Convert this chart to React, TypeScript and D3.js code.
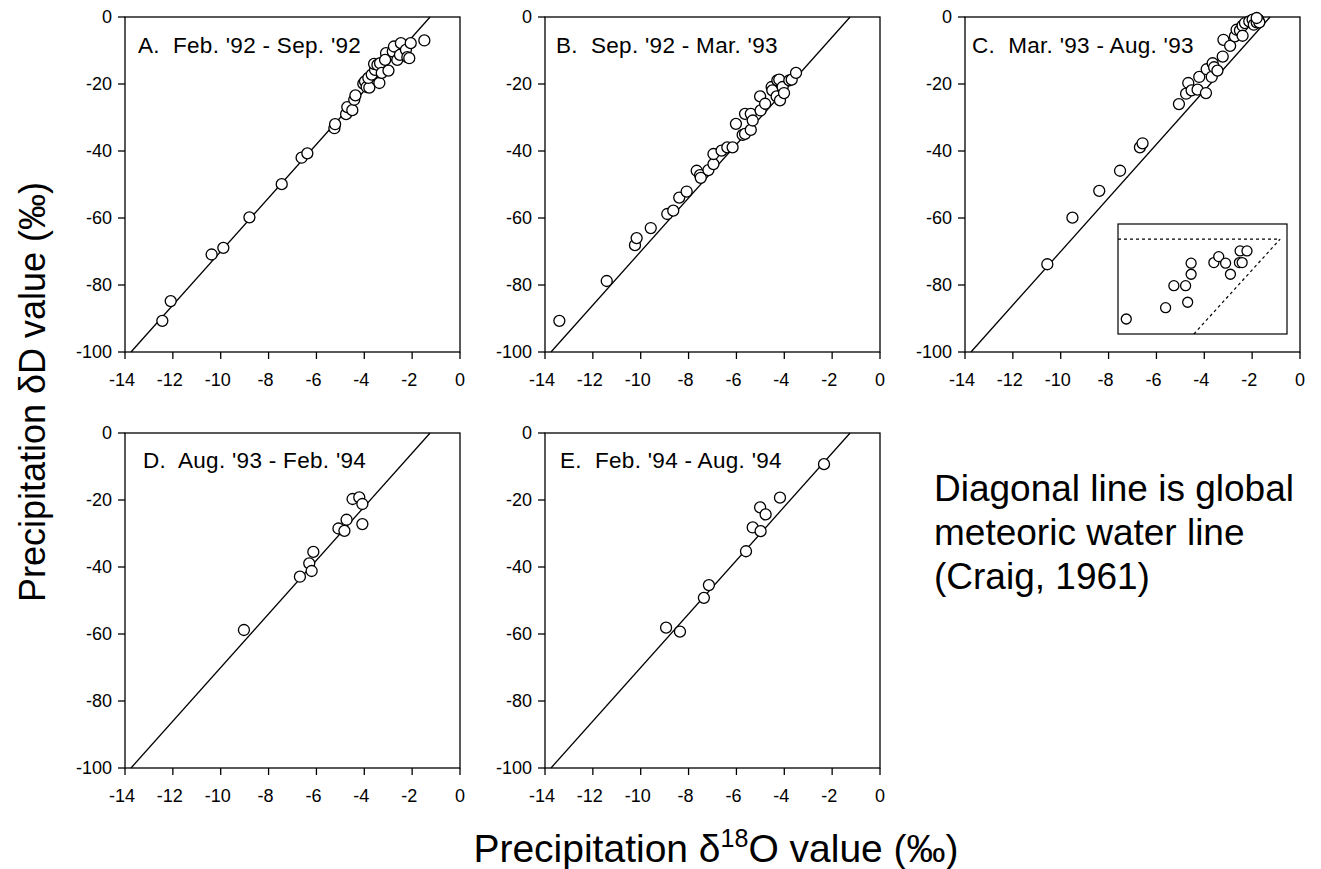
import React from 'react';
import * as d3 from 'd3';

// ---------- data ----------
const xTicks = [-14, -12, -10, -8, -6, -4, -2, 0];
const yTicks = [0, -20, -40, -60, -80, -100];

const panelTitles = [
  "A.  Feb. '92 - Sep. '92",
  "B.  Sep. '92 - Mar. '93",
  "C.  Mar. '93 - Aug. '93",
  "D.  Aug. '93 - Feb. '94",
  "E.  Feb. '94 - Aug. '94",
];

const aO = [-12.44, -12.09, -10.38, -9.89, -8.80, -7.45, -6.62, -6.38, -5.25, -5.22, -4.76, -4.71, -4.50, -4.42, -4.37, -4.04, -3.97, -3.90, -3.79, -3.83, -3.69, -3.55, -3.59, -3.45, -3.37, -3.34, -3.27, -3.09, -3.13, -2.99, -2.81, -2.76, -2.62, -2.51, -2.47, -2.26, -2.20, -2.12, -2.06, -1.49];
const aD = [-90.7, -84.8, -70.9, -68.9, -59.8, -49.9, -42.0, -40.7, -33.2, -32.0, -29.0, -26.9, -27.8, -24.7, -23.4, -19.9, -19.2, -20.9, -21.1, -18.2, -17.2, -15.8, -14.0, -14.3, -19.7, -13.8, -16.7, -10.8, -12.8, -16.0, -10.3, -8.8, -12.8, -11.3, -7.8, -9.8, -12.0, -12.3, -7.8, -7.0];

const bO = [-13.40, -11.42, -10.24, -10.17, -9.58, -8.89, -8.64, -8.39, -8.08, -7.66, -7.52, -7.49, -7.17, -6.96, -6.96, -6.62, -6.38, -6.16, -6.02, -5.74, -5.64, -5.64, -5.40, -5.40, -5.32, -5.01, -4.99, -4.80, -4.53, -4.50, -4.32, -4.29, -4.21, -4.18, -4.07, -4.01, -3.79, -3.69, -3.51];
const bD = [-90.7, -78.8, -68.1, -66.0, -63.0, -58.8, -57.8, -53.9, -52.1, -45.9, -47.2, -48.0, -45.7, -43.9, -40.9, -39.9, -38.9, -38.9, -31.9, -35.2, -34.9, -28.9, -28.9, -33.7, -30.9, -23.7, -27.9, -25.9, -20.9, -21.9, -23.7, -18.9, -18.7, -24.9, -20.9, -22.7, -18.9, -18.7, -16.7];

const cO = [-10.56, -9.51, -8.39, -7.52, -6.69, -6.58, -5.06, -4.76, -4.67, -4.53, -4.28, -4.21, -3.93, -3.90, -3.69, -3.65, -3.59, -3.45, -3.23, -3.20, -2.92, -2.72, -2.65, -2.51, -2.40, -2.40, -2.30, -2.12, -1.98, -1.93, -1.81, -1.74, -1.70, -1.81];
const cD = [-73.8, -59.9, -51.9, -45.9, -38.9, -37.7, -26.0, -22.9, -19.7, -21.9, -21.7, -17.9, -22.7, -15.6, -17.9, -13.8, -15.0, -16.0, -11.8, -6.8, -8.6, -5.8, -3.8, -4.0, -2.6, -5.6, -1.8, -1.3, -0.8, -2.3, -1.6, -0.8, -1.6, -0.3];

const dO = [-9.03, -6.69, -6.30, -6.20, -6.13, -5.08, -4.83, -4.74, -4.49, -4.21, -4.08, -4.08];
const dD = [-58.8, -42.9, -38.9, -41.2, -35.5, -28.5, -29.2, -25.9, -19.7, -19.2, -21.2, -27.2];

const eO = [-8.94, -8.36, -7.36, -7.15, -5.60, -5.32, -4.99, -5.01, -4.78, -4.18, -2.34];
const eD = [-58.1, -59.3, -49.2, -45.4, -35.3, -28.2, -29.3, -22.2, -24.3, -19.3, -9.3];

// inset of panel C
const insetO = [-3.48, -2.91, -2.79, -2.62, -2.59, -2.54, -2.54, -2.21, -2.14, -2.04, -1.97, -1.84, -1.83, -1.80, -1.73];
const insetD = [-8.42, -7.22, -4.90, -4.90, -6.65, -3.70, -2.53, -2.47, -1.84, -2.53, -3.70, -2.47, -1.24, -2.47, -1.24];
const insetXDomain = [-3.6, -1.15];
const insetYDomain = [-10, 1.6];

// global meteoric water line (Craig, 1961): dD = 8 * d18O + 10
const gmwlSlope = 8;
const gmwlIntercept = 10;

const noteLines = ['Diagonal line is global', 'meteoric water line', '(Craig, 1961)'];

// ---------- layout ----------
const W = 1321;
const H = 869;
const SIZE = 335;
const FONT = "'Liberation Sans', Arial, Helvetica, sans-serif";

const panels = [
  { x: 125, y: 17, lx: 13, ly: 36, o: aO, d: aD },
  { x: 545, y: 17, lx: 11, ly: 36, o: bO, d: bD },
  { x: 965, y: 17, lx: 7, ly: 36, o: cO, d: cD },
  { x: 125, y: 433, lx: 18, ly: 35, o: dO, d: dD },
  { x: 545, y: 433, lx: 15, ly: 35, o: eO, d: eD },
];

const xScale = d3.scaleLinear().domain([-14, 0]).range([0, SIZE]);
const yScale = d3.scaleLinear().domain([-100, 0]).range([SIZE, 0]);

const TICK_FS = 18;

function XTickLabel({ v, x }: { v: number; x: number }) {
  const digits = String(Math.abs(v));
  const dw = digits.length * 0.556 * TICK_FS;
  return (
    <g>
      <text x={x} y={SIZE + 34} textAnchor="middle" fontSize={TICK_FS} fontFamily={FONT}>{digits}</text>
      {v < 0 && (
        <text x={x - dw / 2} y={SIZE + 34} textAnchor="end" fontSize={TICK_FS} fontFamily={FONT}>-</text>
      )}
    </g>
  );
}

function Panel({ p, title, inset }: { p: any; title: string; inset?: boolean }) {
  const lineX0 = (yScale.domain()[0] - gmwlIntercept) / gmwlSlope;
  const lineX1 = (yScale.domain()[1] - gmwlIntercept) / gmwlSlope;
  const line = d3.line<[number, number]>().x((d) => xScale(d[0])).y((d) => yScale(d[1]));
  const pts = p.o.map((o: number, i: number) => [o, p.d[i]] as [number, number]);

  let insetEl = null;
  if (inset) {
    const ix = d3.scaleLinear().domain(insetXDomain).range([153, 153 + 169]);
    const iy = d3.scaleLinear().domain(insetYDomain).range([207 + 110, 207]);
    const zeroX = (0 - gmwlIntercept) / gmwlSlope;
    const lowX = (insetYDomain[0] - gmwlIntercept) / gmwlSlope;
    insetEl = (
      <g>
        <rect x={153} y={207} width={169} height={110} fill="white" stroke="black" strokeWidth={1.2} />
        <line x1={153} x2={ix(zeroX)} y1={iy(0)} y2={iy(0)} stroke="black" strokeWidth={1.2} strokeDasharray="3,3" />
        <line x1={ix(lowX)} y1={iy(insetYDomain[0])} x2={ix(zeroX)} y2={iy(0)} stroke="black" strokeWidth={1.2} strokeDasharray="3,3" />
        {insetO.map((o, i) => (
          <circle key={i} cx={ix(o)} cy={iy(insetD[i])} r={5} fill="white" stroke="black" strokeWidth={1.3} />
        ))}
      </g>
    );
  }

  return (
    <g transform={`translate(${p.x},${p.y})`}>
      <rect x={0} y={0} width={SIZE} height={SIZE} fill="none" stroke="black" strokeWidth={1.3} />
      {xTicks.map((t) => (
        <g key={'x' + t}>
          <line x1={xScale(t)} x2={xScale(t)} y1={SIZE} y2={SIZE + 7} stroke="black" strokeWidth={1.3} />
          <XTickLabel v={t} x={xScale(t)} />
        </g>
      ))}
      {yTicks.map((t) => (
        <g key={'y' + t}>
          <line x1={-7} x2={0} y1={yScale(t)} y2={yScale(t)} stroke="black" strokeWidth={1.3} />
          <text x={-13} y={yScale(t)} dy="0.36em" textAnchor="end" fontSize={TICK_FS} fontFamily={FONT}>{t}</text>
        </g>
      ))}
      <path d={line([[lineX0, yScale.domain()[0]], [lineX1, yScale.domain()[1]]]) || ''} stroke="black" strokeWidth={1.3} fill="none" />
      <text x={p.lx} y={p.ly} fontSize={22.5} letterSpacing={0.3} fontFamily={FONT} style={{ whiteSpace: 'pre' }}>{title}</text>
      {pts.map((d: [number, number], i: number) => (
        <circle key={i} cx={xScale(d[0])} cy={yScale(d[1])} r={5.5} fill="white" stroke="black" strokeWidth={1.3} />
      ))}
      {insetEl}
    </g>
  );
}

export default function App() {
  return (
    <svg width={W} height={H} style={{ position: 'absolute', left: 0, top: 0, background: 'white' }}>
      <rect x={0} y={0} width={W} height={H} fill="white" />
      {panels.map((p, i) => (
        <Panel key={i} p={p} title={panelTitles[i]} inset={i === 2} />
      ))}
      <text transform="translate(45,392) rotate(-90)" textAnchor="middle" fontSize={36} fontFamily={FONT}>
        Precipitation δD value (‰)
      </text>
      <text x={716} y={862} textAnchor="middle" fontSize={39} fontFamily={FONT}>
        Precipitation δ<tspan dy={-15} fontSize={25}>18</tspan><tspan dy={15}>O value (‰)</tspan>
      </text>
      {noteLines.map((l, i) => (
        <text key={i} x={934} y={501 + i * 44} fontSize={37} fontFamily={FONT}>{l}</text>
      ))}
    </svg>
  );
}
